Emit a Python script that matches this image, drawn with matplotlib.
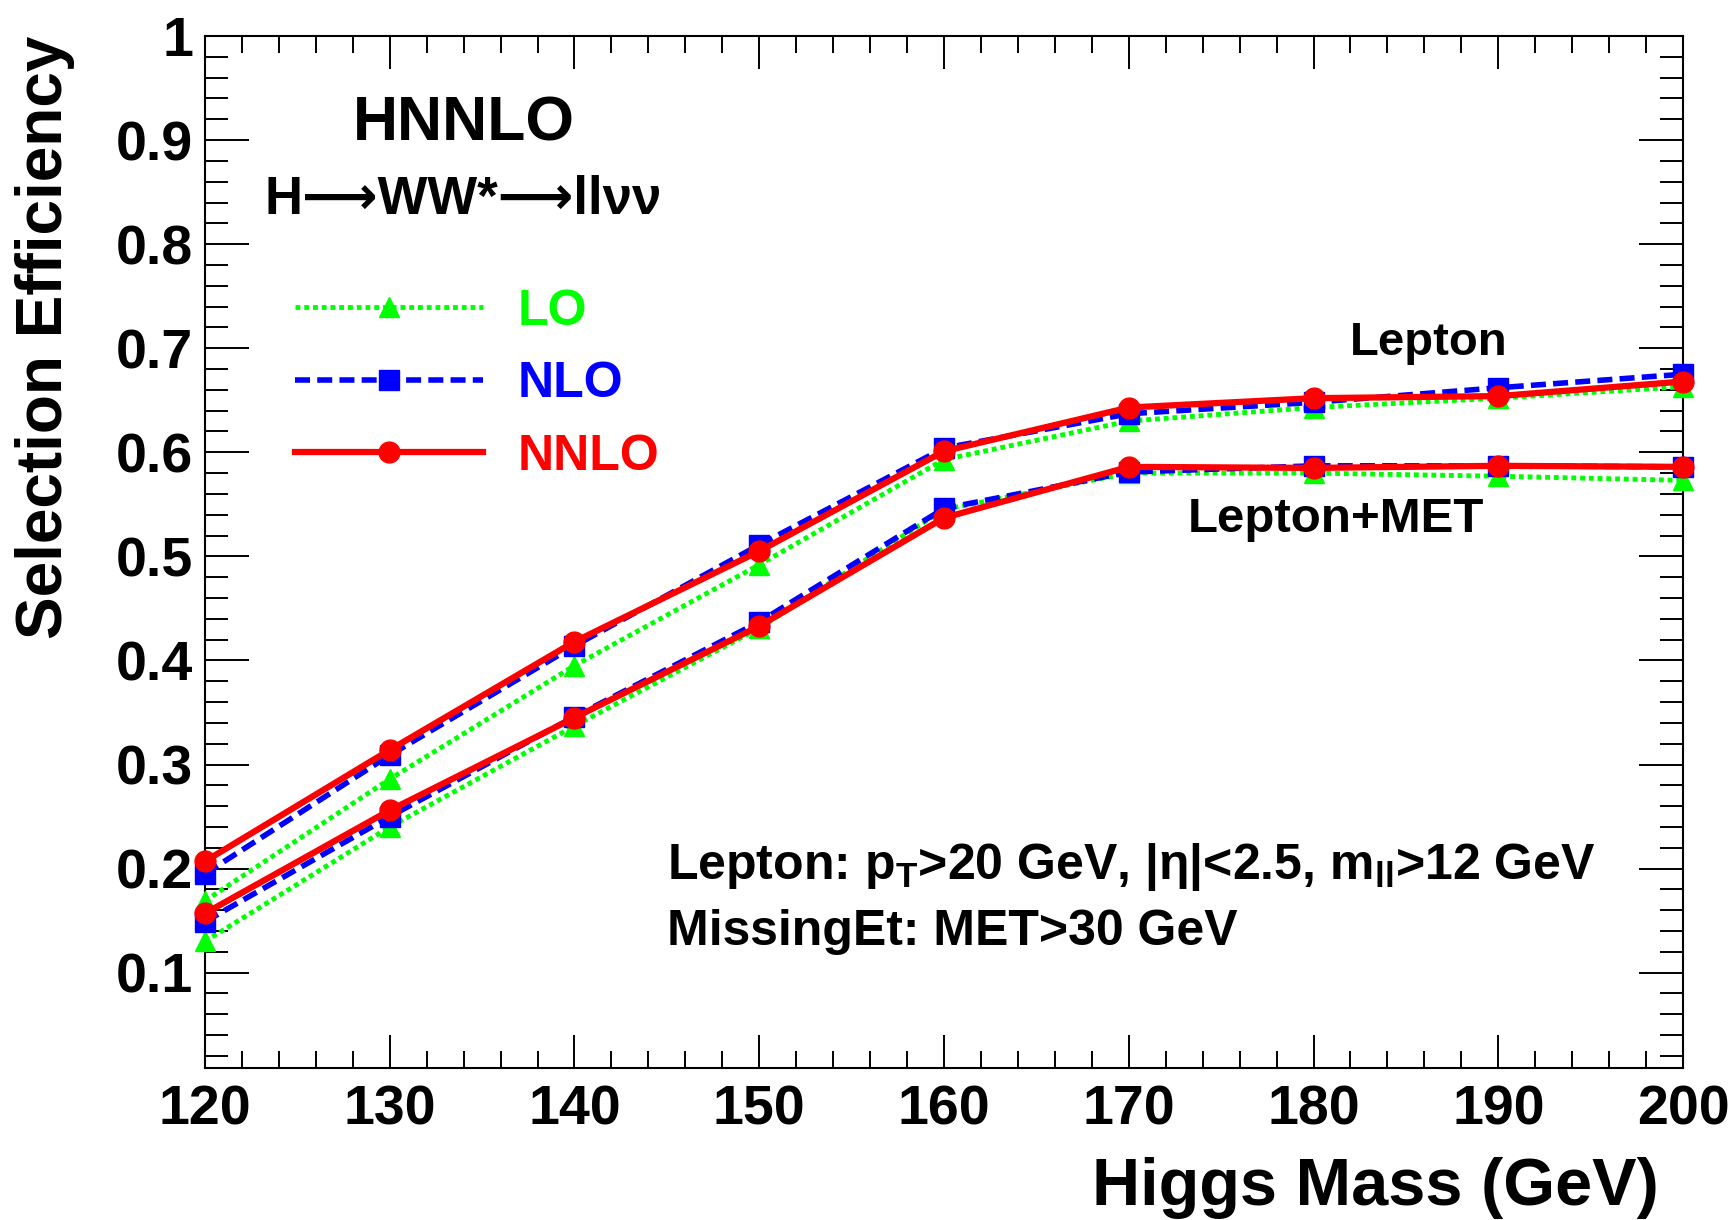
import matplotlib
matplotlib.use("Agg")
import matplotlib.pyplot as plt
from matplotlib.ticker import MultipleLocator, FuncFormatter

plt.rcParams['font.family'] = ['Liberation Sans', 'DejaVu Sans']
plt.rcParams['font.weight'] = 'bold'
plt.rcParams['axes.labelweight'] = 'bold'
plt.rcParams['mathtext.fontset'] = 'custom'
plt.rcParams['mathtext.rm'] = 'Liberation Sans:bold'
plt.rcParams['mathtext.it'] = 'Liberation Sans:bold'
plt.rcParams['mathtext.bf'] = 'Liberation Sans:bold'

# Higgs mass points (GeV)
mass = [120, 130, 140, 150, 160, 170, 180, 190, 200]

# "Lepton" selection efficiency
lo_lep = [0.169, 0.286, 0.395, 0.492, 0.593, 0.630, 0.643, 0.652, 0.663]
nlo_lep = [0.195, 0.309, 0.414, 0.511, 0.604, 0.637, 0.648, 0.662, 0.675]
nnlo_lep = [0.207, 0.314, 0.418, 0.505, 0.601, 0.643, 0.652, 0.654, 0.668]

# "Lepton+MET" selection efficiency
lo_met = [0.130, 0.240, 0.337, 0.431, 0.545, 0.580, 0.580, 0.577, 0.573]
nlo_met = [0.149, 0.250, 0.346, 0.437, 0.546, 0.581, 0.587, 0.587, 0.586]
nnlo_met = [0.157, 0.256, 0.345, 0.433, 0.537, 0.586, 0.585, 0.587, 0.586]

GREEN = '#00ff00'
BLUE = '#0000ff'
RED = '#ff0000'

fig = plt.figure(figsize=(17.34, 12.2), dpi=100)
ax = fig.add_axes([0.1182, 0.1246, 0.8524, 0.8459])

lo_style = dict(color=GREEN, lw=3.5, marker='^', ms=14, dashes=(1.0, 0.8), dash_capstyle='butt')
nlo_style = dict(color=BLUE, lw=4.0, marker='s', ms=15, dashes=(2.7, 1.3), dash_capstyle='butt')
nnlo_style = dict(color=RED, lw=4.5, marker='o', ms=15)

ax.plot(mass, lo_lep, label='LO', zorder=3, clip_on=False, **lo_style)
ax.plot(mass, lo_met, zorder=3, clip_on=False, **lo_style)
ax.plot(mass, nlo_lep, label='NLO', zorder=4, clip_on=False, **nlo_style)
ax.plot(mass, nlo_met, zorder=4, clip_on=False, **nlo_style)
ax.plot(mass, nnlo_lep, label='NNLO', zorder=5, clip_on=False, **nnlo_style)
ax.plot(mass, nnlo_met, zorder=5, clip_on=False, **nnlo_style)

ax.set_xlim(120, 200)
ax.set_ylim(0.0084, 1.0)

ax.xaxis.set_major_locator(MultipleLocator(10))
ax.xaxis.set_minor_locator(MultipleLocator(2))
ax.yaxis.set_major_locator(MultipleLocator(0.1))
ax.yaxis.set_minor_locator(MultipleLocator(0.02))
ax.yaxis.set_major_formatter(FuncFormatter(lambda v, p: '%g' % round(v, 2)))

ax.tick_params(which='both', direction='in', top=True, right=True, width=1.4, labelsize=40)
ax.tick_params(axis='x', which='major', length=24, pad=12)
ax.tick_params(axis='x', which='minor', length=12)
ax.tick_params(axis='y', which='major', length=32, pad=8.5)
ax.tick_params(axis='y', which='minor', length=16.5)
for sp in ax.spines.values():
    sp.set_linewidth(1.5)

ax.set_xlabel('Higgs Mass (GeV)', fontsize=48, loc='right')
ax.xaxis.set_label_coords(0.984, -0.086)
ax.set_ylabel('Selection Efficiency', fontsize=46, loc='top')
ax.yaxis.set_label_coords(-0.088, 1.0)

ax.text(134.0, 0.915, 'HNNLO', fontsize=45, ha='center', va='center')
ax.text(134.0, 0.842, 'H\u27f6WW*\u27f6ll\u03bd\u03bd', fontsize=38, ha='center', va='center')

ax.text(186.25, 0.705, 'Lepton', fontsize=34, ha='center', va='center')
ax.text(181.2, 0.535, 'Lepton+MET', fontsize=35.5, ha='center', va='center')

ax.text(145.0, 0.190, r'Lepton: p$_{\rm T}$>20 GeV, |$\eta$|<2.5, m$_{\rm ll}$>12 GeV',
        fontsize=36, ha='left', va='baseline')
ax.text(145.0, 0.1265, 'MissingEt: MET>30 GeV', fontsize=36, ha='left', va='baseline')

ax.legend(loc='upper left', bbox_to_anchor=(0.0609, 0.755), frameon=False, fontsize=36,
          numpoints=1, handlelength=3.76, handletextpad=0.7, labelspacing=0.53,
          borderpad=0, borderaxespad=0, labelcolor='linecolor')

fig.savefig('out.png', dpi=100)
